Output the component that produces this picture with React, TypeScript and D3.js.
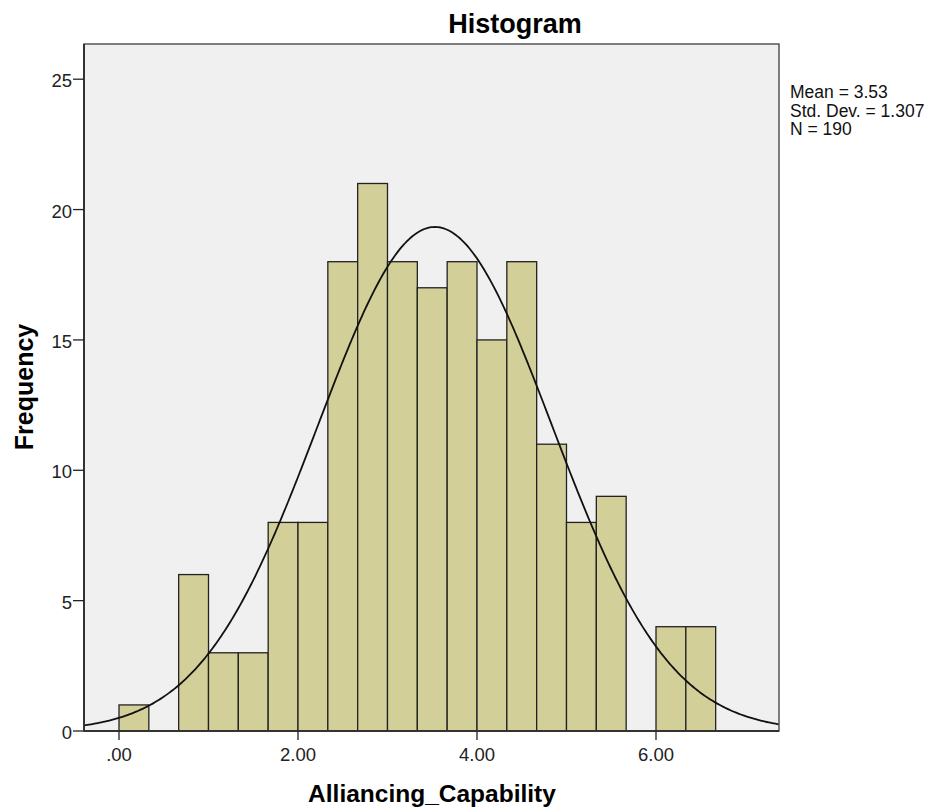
import React from "react";
import * as d3 from "d3";

// Histogram bin counts (bin width 1/3, starting at 0)
const binStart = 0;
const binWidth = 1 / 3;
const counts = [1, 0, 6, 3, 3, 8, 8, 18, 21, 18, 17, 18, 15, 18, 11, 8, 9, 0, 4, 4];
const xTicks = [0, 2, 4, 6];
const yTicks = [0, 5, 10, 15, 20, 25];
const mean = 3.53;
const stdDev = 1.307;
const n = 190;
const statLines = ["Mean = 3.53", "Std. Dev. = 1.307", "N = 190"];

const W = 933;
const H = 811;
const plot = { left: 84, right: 779, top: 44, bottom: 731 };

export default function App() {
  const x = d3
    .scaleLinear()
    .domain([-35 / 89.5, (779 - 119) / 89.5])
    .range([plot.left, plot.right]);
  const y = d3.scaleLinear().domain([0, 26.35]).range([plot.bottom, plot.top]);

  const bins = counts.map((c, i) => ({
    x0: binStart + i * binWidth,
    x1: binStart + (i + 1) * binWidth,
    c,
  }));

  const [dmin, dmax] = x.domain();
  const curvePts = d3.range(0, 401).map((i) => {
    const v = dmin + ((dmax - dmin) * i) / 400;
    const dens =
      ((n * binWidth) / (stdDev * Math.sqrt(2 * Math.PI))) *
      Math.exp(-0.5 * ((v - mean) / stdDev) ** 2);
    return [x(v), y(dens)] as [number, number];
  });
  const curve = d3.line()(curvePts) || "";

  const sans = "'Liberation Sans', Arial, sans-serif";

  return (
    <svg
      width={W}
      height={H}
      style={{ position: "absolute", left: 0, top: 0, background: "#fff" }}
    >
      <text
        x={515}
        y={33}
        textAnchor="middle"
        fontFamily={sans}
        fontWeight="bold"
        fontSize={27}
        fill="#000"
      >
        Histogram
      </text>
      <defs>
        <clipPath id="plotClip">
          <rect
            x={plot.left}
            y={plot.top}
            width={plot.right - plot.left}
            height={plot.bottom - plot.top}
          />
        </clipPath>
      </defs>
      <rect
        x={plot.left}
        y={plot.top}
        width={plot.right - plot.left}
        height={plot.bottom - plot.top}
        fill="#f0f0f0"
      />
      {bins
        .filter((b) => b.c > 0)
        .map((b, i) => (
          <rect
            key={i}
            x={x(b.x0)}
            y={y(b.c)}
            width={x(b.x1) - x(b.x0)}
            height={y(0) - y(b.c)}
            fill="#d3cf98"
            stroke="#222"
            strokeWidth={1.3}
          />
        ))}
      <path
        d={curve}
        fill="none"
        stroke="#111"
        strokeWidth={1.8}
        clipPath="url(#plotClip)"
      />
      {/* frame */}
      <rect
        x={plot.left}
        y={plot.top}
        width={plot.right - plot.left}
        height={plot.bottom - plot.top}
        fill="none"
        stroke="#555"
        strokeWidth={1.5}
      />
      <line x1={plot.left} x2={plot.left} y1={plot.top} y2={plot.bottom} stroke="#333" strokeWidth={2} />
      <line x1={plot.left} x2={plot.right} y1={plot.bottom} y2={plot.bottom} stroke="#333" strokeWidth={2} />
      {yTicks.map((t) => (
        <g key={t}>
          <line x1={plot.left - 11} x2={plot.left} y1={y(t)} y2={y(t)} stroke="#222" strokeWidth={1.3} />
          <text
            x={plot.left - 12}
            y={y(t) + 8}
            textAnchor="end"
            fontFamily={sans}
            fontSize={18.5}
            fill="#222"
          >
            {t}
          </text>
        </g>
      ))}
      {xTicks.map((t) => (
        <g key={t}>
          <line x1={x(t)} x2={x(t)} y1={plot.bottom} y2={plot.bottom + 9} stroke="#222" strokeWidth={1.3} />
          <text
            x={x(t)}
            y={761}
            textAnchor="middle"
            fontFamily={sans}
            fontSize={18.5}
            fill="#222"
          >
            {t === 0 ? ".00" : t.toFixed(2)}
          </text>
        </g>
      ))}
      <text
        x={432}
        y={802}
        textAnchor="middle"
        fontFamily={sans}
        fontWeight="bold"
        fontSize={24.5}
        fill="#000"
      >
        Alliancing_Capability
      </text>
      <text
        transform={`translate(33, 387) rotate(-90)`}
        textAnchor="middle"
        fontFamily={sans}
        fontWeight="bold"
        fontSize={25}
        fill="#000"
      >
        Frequency
      </text>
      {statLines.map((s, i) => (
        <text
          key={i}
          x={790}
          y={98 + i * 18.5}
          fontFamily={sans}
          fontSize={17.5}
          fill="#111"
        >
          {s}
        </text>
      ))}
    </svg>
  );
}
